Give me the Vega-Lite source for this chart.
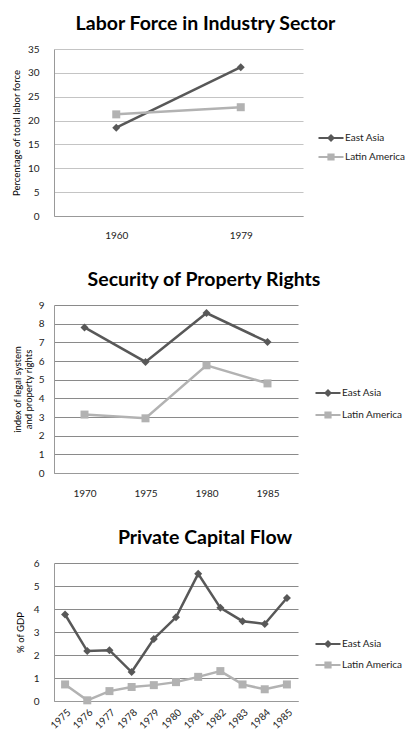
{
  "$schema": "https://vega.github.io/schema/vega-lite/v6.json",
  "background": "white",
  "padding": {"left": 11, "top": 13, "right": 0, "bottom": 0},
  "columns": 1,
  "spacing": 29,
  "resolve": {"scale": {"color": "independent"}, "legend": {"color": "independent"}},
  "config": {
    "font": "Lato",
    "view": {"stroke": null},
    "title": {"font": "Lato", "fontSize": 19.5, "fontWeight": "bold", "color": "#000000", "anchor": "middle", "frame": "group", "offset": 10},
    "axis": {"labelFont": "Lato", "labelFontSize": 10, "labelColor": "#222222", "titleFont": "Lato", "titleFontSize": 9.5, "titleFontWeight": "normal", "titleColor": "#000000", "ticks": false, "domainColor": "#999999"},
    "legend": {"labelFont": "Lato", "labelFontSize": 10, "labelColor": "#222222", "symbolSize": 400, "labelOffset": 4, "symbolOpacity": 1, "symbolStrokeWidth": 0,
      "symbolType": {"expr": "datum.value === 'East Asia' ? 'M-1.25,-0.11H1.25V0.11H-1.25ZM0,-0.4L0.4,0L0,0.4L-0.4,0Z' : 'M-1.25,-0.11H1.25V0.11H-1.25ZM-0.36,-0.36H0.36V0.36H-0.36Z'"},
      "symbolFillColor": {"expr": "datum.value === 'East Asia' ? '#585858' : '#b2b2b2'"}}
  },
  "concat": [
    {
      "title": {"text": "Labor Force in Industry Sector", "dx": 27},
      "width": 249,
      "height": 167,
      "data": {"values": [
        {"year": "1960", "region": "East Asia", "value": 18.5},
        {"year": "1979", "region": "East Asia", "value": 31.2},
        {"year": "1960", "region": "Latin America", "value": 21.3},
        {"year": "1979", "region": "Latin America", "value": 22.8}
      ]},
      "encoding": {
        "x": {"field": "year", "type": "ordinal", "axis": {"title": null, "labelAngle": 0, "labelPadding": 14, "grid": false}},
        "y": {"field": "value", "type": "quantitative", "scale": {"domain": [0, 35], "nice": false}, "axis": {"title": "Percentage of total labor force", "values": [0, 5, 10, 15, 20, 25, 30, 35], "labelPadding": 15, "titlePadding": 6, "gridColor": "#c4c4c4", "gridWidth": 1.2}},
        "color": {"field": "region", "type": "nominal", "scale": {"domain": ["East Asia", "Latin America"], "range": ["#585858", "#b2b2b2"]},
          "legend": {"title": null, "orient": "none", "legendX": 267, "legendY": 79, "rowPadding": 4}}
      },
      "layer": [
        {"mark": {"type": "line", "strokeWidth": 2.5}},
        {"transform": [{"filter": "datum.region === 'East Asia'"}], "mark": {"type": "point", "shape": "diamond", "filled": true, "size": 64, "opacity": 1}},
        {"transform": [{"filter": "datum.region === 'Latin America'"}], "mark": {"type": "point", "shape": "square", "filled": true, "size": 64, "opacity": 1}}
      ]
    },
    {
      "title": {"text": "Security of Property Rights", "dx": 28},
      "width": 244,
      "height": 168,
      "data": {"values": [
        {"year": "1970", "region": "East Asia", "value": 7.8},
        {"year": "1975", "region": "East Asia", "value": 5.95},
        {"year": "1980", "region": "East Asia", "value": 8.57},
        {"year": "1985", "region": "East Asia", "value": 7.02},
        {"year": "1970", "region": "Latin America", "value": 3.13},
        {"year": "1975", "region": "Latin America", "value": 2.93},
        {"year": "1980", "region": "Latin America", "value": 5.77},
        {"year": "1985", "region": "Latin America", "value": 4.8}
      ]},
      "encoding": {
        "x": {"field": "year", "type": "ordinal", "axis": {"title": null, "labelAngle": 0, "labelPadding": 15, "grid": false}},
        "y": {"field": "value", "type": "quantitative", "scale": {"domain": [0, 9], "nice": false}, "axis": {"title": ["index of legal system", "and property rights"], "values": [0, 1, 2, 3, 4, 5, 6, 7, 8, 9], "labelPadding": 10, "titlePadding": 5, "titleLineHeight": 11, "gridColor": "#8a8a8a", "gridWidth": 1.2}},
        "color": {"field": "region", "type": "nominal", "scale": {"domain": ["East Asia", "Latin America"], "range": ["#585858", "#b2b2b2"]},
          "legend": {"title": null, "orient": "none", "legendX": 264, "legendY": 78, "rowPadding": 7}}
      },
      "layer": [
        {"mark": {"type": "line", "strokeWidth": 2.5}},
        {"transform": [{"filter": "datum.region === 'East Asia'"}], "mark": {"type": "point", "shape": "diamond", "filled": true, "size": 64, "opacity": 1}},
        {"transform": [{"filter": "datum.region === 'Latin America'"}], "mark": {"type": "point", "shape": "square", "filled": true, "size": 64, "opacity": 1}}
      ]
    },
    {
      "title": {"text": "Private Capital Flow", "dx": 29},
      "width": 244,
      "height": 138,
      "data": {"values": [
        {"year": "1975", "region": "East Asia", "value": 3.76},
        {"year": "1976", "region": "East Asia", "value": 2.17},
        {"year": "1977", "region": "East Asia", "value": 2.21},
        {"year": "1978", "region": "East Asia", "value": 1.26},
        {"year": "1979", "region": "East Asia", "value": 2.7},
        {"year": "1980", "region": "East Asia", "value": 3.64},
        {"year": "1981", "region": "East Asia", "value": 5.53},
        {"year": "1982", "region": "East Asia", "value": 4.05},
        {"year": "1983", "region": "East Asia", "value": 3.47},
        {"year": "1984", "region": "East Asia", "value": 3.35},
        {"year": "1985", "region": "East Asia", "value": 4.48},
        {"year": "1975", "region": "Latin America", "value": 0.72},
        {"year": "1976", "region": "Latin America", "value": 0.03},
        {"year": "1977", "region": "Latin America", "value": 0.43},
        {"year": "1978", "region": "Latin America", "value": 0.61},
        {"year": "1979", "region": "Latin America", "value": 0.69},
        {"year": "1980", "region": "Latin America", "value": 0.82},
        {"year": "1981", "region": "Latin America", "value": 1.05},
        {"year": "1982", "region": "Latin America", "value": 1.3},
        {"year": "1983", "region": "Latin America", "value": 0.72},
        {"year": "1984", "region": "Latin America", "value": 0.51},
        {"year": "1985", "region": "Latin America", "value": 0.72}
      ]},
      "encoding": {
        "x": {"field": "year", "type": "ordinal", "axis": {"title": null, "labelAngle": -45, "labelPadding": 6, "grid": false}},
        "y": {"field": "value", "type": "quantitative", "scale": {"domain": [0, 6], "nice": false}, "axis": {"title": "% of GDP", "values": [0, 1, 2, 3, 4, 5, 6], "labelPadding": 15, "titlePadding": 8, "gridColor": "#8a8a8a", "gridWidth": 1.2}},
        "color": {"field": "region", "type": "nominal", "scale": {"domain": ["East Asia", "Latin America"], "range": ["#585858", "#b2b2b2"]},
          "legend": {"title": null, "orient": "none", "legendX": 264, "legendY": 71, "rowPadding": 6}}
      },
      "layer": [
        {"mark": {"type": "line", "strokeWidth": 2.5}},
        {"transform": [{"filter": "datum.region === 'East Asia'"}], "mark": {"type": "point", "shape": "diamond", "filled": true, "size": 64, "opacity": 1}},
        {"transform": [{"filter": "datum.region === 'Latin America'"}], "mark": {"type": "point", "shape": "square", "filled": true, "size": 64, "opacity": 1}}
      ]
    }
  ]
}
